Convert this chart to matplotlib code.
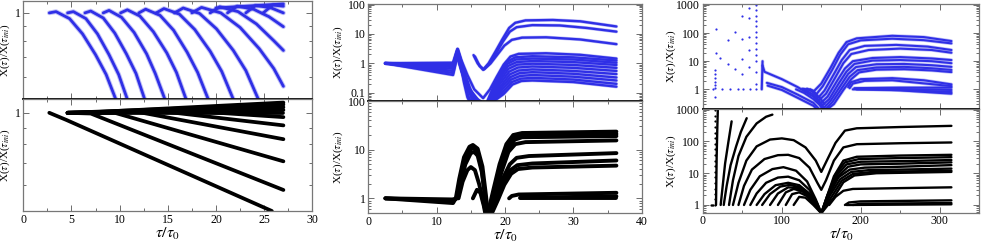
import matplotlib
import matplotlib.pyplot as plt
import matplotlib.ticker as mticker

matplotlib.use('Agg')

plt.rcParams['font.family'] = ['Liberation Serif', 'DejaVu Serif']
plt.rcParams['mathtext.fontset'] = 'stix'

BLUE = '#2f2fe6'

# ---------------- panel 1 (tau/tau0 up to 30) ----------------
p1_top = [
    [(2.7, 1.0), (3.4, 1.01), (4.8, 0.955), (6.15, 0.845), (7.5, 0.715), (8.6, 0.61), (9.6, 0.5)],
    [(4.6, 1.0), (5.2, 1.01), (6.5, 0.955), (7.7, 0.845), (8.9, 0.715), (9.9, 0.61), (10.8, 0.5)],
    [(6.4, 1.0), (7.0, 1.015), (8.3, 0.96), (9.5, 0.85), (10.7, 0.72), (11.7, 0.615), (12.6, 0.5)],
    [(8.3, 1.0), (8.9, 1.02), (10.2, 0.965), (11.5, 0.855), (12.8, 0.72), (13.7, 0.615), (14.7, 0.5)],
    [(10.1, 1.0), (10.8, 1.025), (12.1, 0.975), (13.5, 0.86), (14.9, 0.725), (15.9, 0.62), (16.9, 0.5)],
    [(12.0, 1.0), (12.7, 1.03), (14.2, 0.98), (15.6, 0.87), (17.0, 0.73), (18.1, 0.62), (19.2, 0.5)],
    [(13.8, 1.0), (14.6, 1.035), (16.2, 0.99), (17.8, 0.875), (19.4, 0.735), (20.6, 0.625), (21.8, 0.5)],
    [(15.7, 1.0), (16.6, 1.04), (18.3, 0.995), (20.05, 0.88), (21.8, 0.74), (23.1, 0.63), (24.4, 0.5)],
    [(17.5, 1.0), (18.5, 1.045), (20.5, 1.0), (22.5, 0.89), (24.5, 0.75), (26.0, 0.64), (27.0, 0.555)],
    [(19.4, 1.0), (20.4, 1.05), (22.3, 1.01), (24.2, 0.915), (26.0, 0.80), (27.0, 0.74)],
    [(21.2, 1.0), (22.2, 1.055), (23.9, 1.03), (25.5, 0.97), (27.0, 0.895)],
    [(23.1, 1.0), (24.1, 1.06), (25.6, 1.045), (27.0, 1.0)],
    [(24.9, 1.0), (25.9, 1.065), (27.0, 1.055)],
    [(20.0, 1.04), (24.0, 1.06), (27.0, 1.075)],
]

p1_bot = [
    [(2.7, 1.0), (4.5, 0.95), (25.8, 0.5)],
    [(4.6, 1.0), (7.0, 0.995), (27.0, 0.58)],
    [(4.6, 1.0), (9.5, 1.0), (27.0, 0.71)],
    [(4.6, 1.0), (12.0, 1.005), (27.0, 0.83)],
    [(4.6, 1.0), (14.5, 1.01), (27.0, 0.915)],
    [(4.6, 1.0), (17.0, 1.015), (27.0, 0.97)],
    [(4.6, 1.0), (27.0, 1.0)],
    [(4.6, 1.0), (27.0, 1.02)],
    [(4.6, 1.0), (27.0, 1.04)],
    [(4.6, 1.0), (27.0, 1.06)],
    [(6.0, 1.0), (27.0, 1.075)],
]

# ---------------- panel 2 (tau/tau0 up to 40) ----------------
p2_top = [
    [(2.5, 1.0), (12.4, 1.05), (13.05, 3.1), (13.6, 1.2), (14.3, 0.35), (15.0, 0.12), (15.6, 0.05)],
    [(2.5, 1.0), (12.4, 0.95), (13.05, 3.0), (13.6, 1.1), (14.2, 0.3), (14.8, 0.1), (15.3, 0.05)],
    [(2.5, 1.0), (12.4, 0.85), (13.05, 2.8), (13.5, 1.0), (14.1, 0.25), (14.6, 0.08), (15.0, 0.05)],
    [(2.5, 1.0), (12.4, 0.75), (13.0, 2.6), (13.5, 0.9), (14.0, 0.22), (14.5, 0.07), (14.8, 0.05)],
    [(2.5, 1.0), (12.4, 0.65), (13.0, 2.4), (13.5, 0.8), (14.2, 0.2), (15.2, 0.07), (15.8, 0.05)],
    [(2.5, 1.0), (12.4, 0.55), (13.0, 2.1), (13.6, 0.7), (14.4, 0.18), (15.6, 0.07), (16.3, 0.05)],
    [(2.5, 1.0), (12.4, 0.47), (13.0, 1.9), (13.6, 0.6), (14.6, 0.15), (15.9, 0.06), (16.4, 0.05)],
    [(2.5, 1.0), (12.4, 0.40), (13.0, 1.7), (13.7, 0.5), (14.8, 0.13), (16.1, 0.055), (16.5, 0.05)],
    # V through the deep minimum
    [(13.1, 3.0), (13.6, 1.3), (14.5, 0.4), (15.5, 0.13), (16.8, 0.065), (17.8, 0.13), (18.8, 0.35),
     (19.8, 0.9), (20.8, 1.7), (22.0, 2.1), (26.0, 2.2), (31.0, 1.95), (36.3, 1.45)],
    # upper branches
    [(15.4, 1.9), (16.0, 1.0), (16.8, 0.6), (17.6, 1.0), (18.6, 2.5), (19.6, 6.5), (20.6, 16),
     (21.5, 24), (23.0, 29), (27.0, 30), (31.0, 27), (36.3, 18)],
    [(15.6, 1.7), (16.3, 0.8), (16.9, 0.62), (17.7, 0.95), (18.7, 2.2), (19.7, 5.5), (20.7, 12),
     (21.7, 17), (24.0, 20), (28.0, 19.5), (32.0, 16), (36.3, 12)],
    [(17.0, 0.65), (17.9, 1.0), (18.9, 2.0), (19.9, 4.0), (21.0, 6.3), (22.5, 7.5), (26.0, 7.7),
     (31.0, 6.5), (36.3, 4.5)],
    # lower family rising from below
    [(17.4, 0.05), (18.8, 0.3), (20.2, 1.1), (21.5, 1.6), (24.0, 1.75), (30.0, 1.6), (36.3, 1.25)],
    [(17.5, 0.05), (18.9, 0.28), (20.3, 0.95), (21.6, 1.35), (24.0, 1.45), (30.0, 1.35), (36.3, 1.05)],
    [(17.6, 0.05), (19.0, 0.25), (20.4, 0.8), (21.7, 1.1), (24.0, 1.2), (30.0, 1.1), (36.3, 0.88)],
    [(17.7, 0.05), (19.1, 0.22), (20.5, 0.65), (21.8, 0.9), (24.0, 0.97), (30.0, 0.88), (36.3, 0.7)],
    [(17.8, 0.05), (19.2, 0.19), (20.6, 0.52), (21.9, 0.72), (24.0, 0.78), (30.0, 0.7), (36.3, 0.55)],
    [(17.9, 0.05), (19.3, 0.16), (20.7, 0.42), (22.0, 0.57), (24.0, 0.62), (30.0, 0.55), (36.3, 0.43)],
    [(18.0, 0.05), (19.4, 0.14), (20.8, 0.34), (22.1, 0.46), (24.0, 0.5), (30.0, 0.44), (36.3, 0.33)],
    [(18.1, 0.05), (19.5, 0.12), (20.9, 0.28), (22.2, 0.37), (24.0, 0.4), (30.0, 0.35), (36.3, 0.26)],
    [(18.2, 0.05), (19.6, 0.1), (21.0, 0.23), (22.3, 0.3), (24.0, 0.32), (30.0, 0.28), (36.3, 0.2)],
    [(18.3, 0.05), (19.8, 0.09), (21.1, 0.19), (22.4, 0.25), (24.0, 0.26), (30.0, 0.23), (36.3, 0.16)],
]

p2_bot = [
    [(2.5, 1.0), (12.4, 0.8), (12.8, 1.0), (13.3, 2.5), (14.0, 7), (14.8, 11.5), (15.3, 12.5),
     (16.0, 10.5), (16.7, 4.5), (17.2, 1.2), (17.5, 0.5)],
    [(2.5, 1.0), (12.4, 0.88), (12.9, 1.0), (13.4, 2.2), (14.1, 6), (14.9, 10), (15.4, 10.8),
     (16.0, 9), (16.6, 4), (17.1, 1.1), (17.4, 0.5)],
    [(2.5, 1.0), (12.3, 0.95), (13.0, 1.0), (13.5, 2.0), (14.2, 5), (15.0, 8.5), (15.5, 9),
     (16.0, 7.5), (16.6, 3.5), (17.2, 0.8), (17.4, 0.5)],
    [(13.2, 1.0), (13.8, 2.2), (14.5, 3.8), (15.0, 4.4), (15.6, 3.8), (16.2, 2.0), (16.8, 0.9), (17.2, 0.5)],
    [(15.3, 1.0), (15.9, 1.5), (16.4, 1.3), (16.9, 0.7), (17.1, 0.5)],
    [(17.5, 0.5), (18.3, 1.5), (19.2, 5), (20.2, 13), (21.2, 20), (22.5, 22), (36.3, 23.5)],
    [(17.6, 0.5), (18.4, 1.4), (19.3, 4.5), (20.3, 12), (21.3, 18), (22.5, 20), (36.3, 21)],
    [(17.7, 0.5), (18.5, 1.3), (19.4, 4), (20.4, 10), (21.4, 16), (22.5, 18), (36.3, 19)],
    [(17.8, 0.5), (18.6, 1.2), (19.5, 3.5), (20.5, 9), (21.5, 13), (23.0, 14.3), (36.3, 15.5)],
    [(17.9, 0.5), (18.8, 1.1), (19.7, 2.6), (20.7, 5), (21.7, 6.8), (23.5, 7.4), (36.3, 8.5)],
    [(18.0, 0.5), (18.9, 1.0), (19.8, 2.2), (20.8, 3.8), (21.8, 4.8), (24.0, 5.2), (36.3, 6.0)],
    [(18.1, 0.5), (19.0, 0.95), (19.9, 1.9), (20.9, 3.2), (21.9, 4.0), (24.0, 4.3), (36.3, 4.7)],
    [(20.6, 1.0), (21.0, 1.12), (22.0, 1.2), (36.3, 1.3)],
    [(22.2, 1.0), (36.3, 1.0)],
    [(22.3, 1.03), (36.3, 1.1)],
]

# ---------------- panel 3 (tau/tau0 up to 350) ----------------
p3_top_dots_x = [13, 23.7, 34.2, 44, 51, 59.6, 67.2,
                 15.2, 15.2, 15.2, 15.2, 15.2, 15.2, 15.2, 16.5, 16.5, 21.5,
                 31.3, 31.3, 40.6, 40.6, 49.9, 49.9, 49.9, 49.9,
                 58.3, 58.3, 58.3, 58.3, 58.3,
                 67.2, 67.2, 67.2, 67.2, 67.2, 67.2, 67.2, 67.2, 67.2, 67.2, 67.2, 67.2, 67.2]
p3_top_dots_y = [1, 1, 1, 1, 1, 1, 1,
                 4.87, 3.5, 2.46, 1.86, 1.42, 1.08, 0.55, 19, 136, 12.7,
                 56.5, 7.75, 112, 5.15, 405, 60, 11.7, 3.5,
                 760, 335, 71, 25, 6.4,
                 1000, 650, 420, 270, 175, 110, 70, 45, 28, 17, 10, 4, 1.5]

p3_top = [
    [(74.5, 1.0), (75.5, 10.0)],
    [(75.5, 7.0), (78, 4.2), (100, 2.3), (120, 1.2), (140, 0.55), (150, 0.3), (153, 0.19)],
    [(81, 1.7), (100, 1.2), (120, 0.65), (140, 0.33), (148, 0.19)],
    [(82, 1.35), (100, 0.95), (120, 0.5), (140, 0.26), (145, 0.19)],
    [(118, 1.0), (128, 0.75), (140, 0.45), (148, 0.28), (152, 0.19)],
    [(128, 1.0), (138, 0.7), (146, 0.42), (152, 0.25), (155, 0.19)],
    [(132, 1.05), (140, 0.8), (148, 0.5), (154, 0.3)],
    [(126, 1.05), (134, 0.98), (141, 0.88), (150, 1.6), (162, 6), (172, 20), (182, 48), (195, 65),
     (240, 80), (280, 72), (315, 52)],
    [(136, 1.0), (144, 0.68), (152, 1.3), (164, 5), (174, 17), (184, 40), (200, 55), (240, 63),
     (280, 56), (315, 43)],
    [(140, 0.8), (146, 0.5), (154, 0.9), (166, 3.5), (176, 11), (186, 25), (205, 35), (245, 38),
     (285, 33), (315, 25)],
    [(146, 0.38), (156, 0.7), (168, 2.7), (178, 8.5), (188, 18), (210, 25), (250, 28), (290, 25), (315, 20)],
    [(148, 0.3), (158, 0.55), (170, 2.0), (180, 5.5), (190, 10), (215, 13), (250, 14), (290, 12.5), (315, 11)],
    [(150, 0.25), (160, 0.45), (172, 1.6), (182, 4.3), (192, 8), (215, 10.5), (250, 11), (290, 10), (315, 8.5)],
    [(152, 0.2), (162, 0.4), (174, 1.3), (184, 3.5), (194, 6.2), (220, 7.8), (255, 8), (290, 7.2), (315, 6.3)],
    [(155, 0.19), (164, 0.35), (176, 1.1), (186, 2.8), (196, 4.8), (220, 6.0), (255, 6.3), (290, 5.6), (315, 4.9)],
    [(157, 0.19), (166, 0.3), (178, 0.95), (188, 2.3), (198, 4.0), (220, 5.0), (255, 5.2), (290, 4.7), (315, 4.1)],
    [(184, 1.2), (188, 1.8), (200, 2.3), (240, 2.5), (280, 2.1), (315, 1.5)],
    [(186, 1.1), (190, 1.6), (205, 2.0), (240, 2.1), (315, 1.3)],
    [(190, 1.0), (250, 1.02), (315, 0.95)],
    [(195, 1.0), (250, 0.95), (315, 0.8)],
    [(200, 1.05), (250, 0.92), (315, 0.7)],
    [(192, 1.1), (250, 1.15), (315, 1.15)],
]

p3_bot_dots_x = [15.2] * 18 + [10, 11.5, 13]
p3_bot_dots_y = [1, 1.5, 2.2, 3.3, 5, 7.5, 11, 17, 25, 38, 57, 85, 130, 190, 290, 430, 650, 970, 1, 1, 1]

p3_bot = [
    [(16.5, 1), (17.3, 30), (18.2, 300), (18.8, 1000)],
    [(22.4, 1), (25, 4), (28, 20), (32, 90), (36.3, 430)],
    [(26.3, 1), (30, 4), (35, 18), (42, 70), (48, 200), (55.4, 540)],
    [(33, 1), (38, 6), (45, 35), (55, 140), (68, 370), (80, 600), (88, 700)],
    [(38, 1), (45, 5), (55, 25), (68, 70), (85, 115), (100, 125), (115, 110), (130, 65), (143, 25),
     (150, 11), (157, 25), (168, 90), (180, 220), (195, 260), (250, 285), (315, 310)],
    [(45, 1), (52, 4), (62, 13), (78, 28), (95, 37), (108, 38), (122, 30), (135, 15), (145, 5),
     (150, 3), (156, 6), (166, 25), (178, 65), (195, 82), (250, 88), (315, 93)],
    [(52, 1), (60, 3), (72, 8), (88, 13.5), (102, 15.5), (118, 12), (132, 5.5), (143, 1.5),
     (150, 0.55), (156, 1.5), (166, 8), (178, 25), (195, 33), (250, 36), (315, 38)],
    [(60, 1), (68, 2.3), (80, 5), (95, 7.3), (108, 7.8), (122, 6), (135, 3), (145, 1.1),
     (150, 0.55), (157, 1.8), (168, 9), (180, 22), (198, 28), (250, 30), (315, 32)],
    [(68, 1), (78, 2.2), (92, 4.2), (108, 5), (122, 4.2), (135, 2.3), (145, 0.9),
     (150, 0.55), (158, 2), (170, 9), (182, 19), (200, 23), (250, 24), (315, 26)],
    [(75, 1), (85, 2.2), (98, 3.8), (110, 4.3), (123, 3.6), (136, 2), (146, 0.8),
     (150, 0.55), (159, 2), (171, 8), (184, 16), (200, 19), (250, 20), (315, 22)],
    [(85, 1), (95, 2.3), (108, 3.6), (120, 3.4), (132, 2.3), (142, 1.1),
     (150, 0.55), (160, 2.2), (172, 7.5), (186, 13), (205, 15), (250, 16), (315, 18)],
    [(95, 1), (105, 2.5), (115, 3.2), (126, 2.7), (138, 1.5),
     (150, 0.55), (161, 2.0), (174, 6.5), (188, 11), (210, 12.5), (250, 13), (315, 14)],
    [(105, 1), (113, 2.2), (122, 2.5), (132, 1.9), (142, 1.0),
     (150, 0.55), (163, 1.8), (176, 5.8), (190, 9.5), (215, 11), (315, 12)],
    [(115, 1), (122, 1.8), (130, 1.7), (140, 1.0),
     (150, 0.55), (165, 1.6), (178, 5.2), (192, 8.5), (220, 10), (315, 11)],
    [(160, 1), (168, 1.8), (178, 2.8), (190, 3.2), (250, 3.4), (315, 3.6)],
    [(180, 1), (185, 1.2), (200, 1.3), (315, 1.4)],
    [(182, 1), (315, 1.05)],
    [(190, 1.0), (200, 1.1), (315, 1.15)],
]

YLABEL = r'X($\tau$)/X($\tau_{ini}$)'
XLABEL = r'$\tau/\tau_0$'

fig = plt.figure(figsize=(9.81, 2.44), dpi=100)


def px_axes(left, top, right, bottom):
    return fig.add_axes([left / 981, 1 - bottom / 244, (right - left) / 981, (bottom - top) / 244])


def draw(ax, curves, color, lw, halo=0.0):
    for c in curves:
        xs = [p[0] for p in c]
        ys = [p[1] for p in c]
        if halo:
            ax.plot(xs, ys, color=color, lw=lw + halo, alpha=0.3, solid_capstyle='round')
        ax.plot(xs, ys, color=color, lw=lw, solid_capstyle='round', solid_joinstyle='round')


def style(ax, xlim, ylim, xmaj, xmin, ymaj, ylabels, xlabels=True, top=True):
    ax.set_xlim(*xlim)
    ax.set_yscale('log')
    ax.set_ylim(*ylim)
    ax.xaxis.set_major_locator(mticker.FixedLocator(xmaj))
    ax.xaxis.set_minor_locator(mticker.MultipleLocator(xmin))
    ax.yaxis.set_major_locator(mticker.FixedLocator(ymaj))
    ax.yaxis.set_major_formatter(mticker.FixedFormatter(ylabels))
    ax.yaxis.set_minor_formatter(mticker.NullFormatter())
    ax.tick_params(which='both', direction='in', top=True, right=True, labelsize=8.5,
                   color='#555555', width=0.6, pad=2)
    ax.tick_params(which='major', length=4)
    ax.tick_params(which='minor', length=2.5)
    if not xlabels:
        ax.tick_params(labelbottom=False)
    else:
        ax.set_xticklabels([str(v) for v in xmaj])
        ax.set_xlabel(XLABEL, fontsize=11.5, labelpad=0)
    for s in ax.spines.values():
        s.set_color('#777777')
        s.set_linewidth(0.9)
    if top:
        ax.spines['bottom'].set_color('black')
        ax.spines['bottom'].set_linewidth(1.3)
    ax.set_ylabel(YLABEL, fontsize=8)


# panel 1
a1t = px_axes(23.3, 1, 312.3, 99.3)
a1b = px_axes(23.3, 99.3, 312.3, 211)
draw(a1t, p1_top, BLUE, 2.0, halo=1.4)
draw(a1b, p1_bot, 'black', 2.7)
style(a1t, (0, 30), (0.5, 1.1), [0, 5, 10, 15, 20, 25, 30], 2.5, [1], ['1'], xlabels=False)
style(a1b, (0, 30), (0.5, 1.1), [0, 5, 10, 15, 20, 25, 30], 2.5, [1], ['1'], top=False)
for a in (a1t, a1b):
    a.yaxis.set_minor_locator(mticker.FixedLocator([0.6, 0.7, 0.8, 0.9]))
    a.yaxis.set_label_coords(-0.038, 0.5)

# panel 2
a2t = px_axes(368.3, 4, 641.7, 101)
a2b = px_axes(368.3, 101, 641.7, 213)
draw(a2t, p2_top, BLUE, 1.7, halo=0.8)
draw(a2b, p2_bot, 'black', 2.8)
style(a2t, (0, 40), (0.052, 105), [0, 10, 20, 30, 40], 5, [0.1, 1, 10, 100],
      ['0.1', '1', '10', '100'], xlabels=False)
style(a2b, (0, 40), (0.5, 100), [0, 10, 20, 30, 40], 5, [1, 10, 100], ['1', '10', '100'], top=False)
for a in (a2t, a2b):
    a.yaxis.set_minor_locator(mticker.LogLocator(subs=range(2, 10)))
    a.yaxis.set_label_coords(-0.085, 0.5)

# panel 3
a3t = px_axes(703, 4, 979, 109.3)
a3b = px_axes(703, 109.3, 979, 212.5)
a3t.scatter(p3_top_dots_x, p3_top_dots_y, s=2.5, color=BLUE, lw=0)
draw(a3t, p3_top, BLUE, 1.5, halo=1.0)
a3b.scatter(p3_bot_dots_x, p3_bot_dots_y, s=2.5, color='black', lw=0)
draw(a3b, p3_bot, 'black', 1.7)
style(a3t, (0, 350), (0.195, 1080), [0, 100, 200, 300], 50, [1, 10, 100, 1000],
      ['1', '10', '100', '1000'], xlabels=False)
style(a3b, (0, 350), (0.58, 1030), [0, 100, 200, 300], 50, [1, 10, 100, 1000],
      ['1', '10', '100', '1000'], top=False)
for a in (a3t, a3b):
    a.yaxis.set_minor_locator(mticker.LogLocator(subs=range(2, 10)))
    a.yaxis.set_label_coords(-0.09, 0.5)

fig.savefig('out.png', dpi=100)
